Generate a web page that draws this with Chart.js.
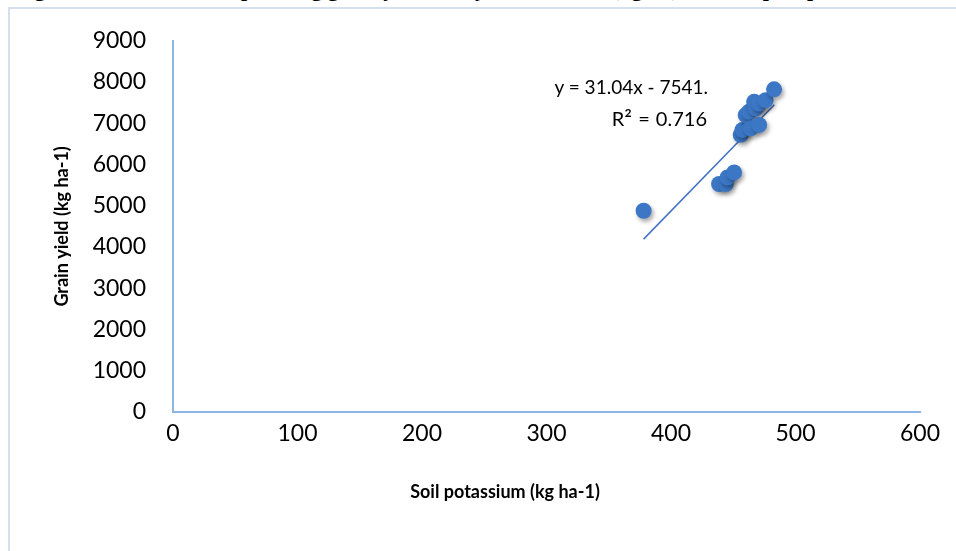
<!DOCTYPE html>
<html>
<head>
<meta charset="utf-8">
<script src="https://cdn.jsdelivr.net/npm/chart.js@4.4.1/dist/chart.umd.min.js"></script>
<style>
  html, body { margin: 0; padding: 0; background: #fff; overflow: hidden; }
  #wrap { position: relative; width: 956px; height: 551px; overflow: hidden; }
  #frame { position: absolute; left: 8px; top: 7px; right: -10px; bottom: -10px;
           border-left: 2px solid #D5E0EF; border-top: 2px solid #D5E0EF; }
  #caption { position: absolute; top: -22px; left: 15px; white-space: nowrap;
             font: bold 22px "Liberation Serif", serif; line-height: 22px; color: #000; }
  .eq { position: absolute; font: 19px Lato, sans-serif; color: #000; white-space: nowrap; line-height: 24px; }
  .eq .sq { font-size: 23px; line-height: 0; position: relative; top: 2px; }
  #xtitle { position: absolute; left: 505px; top: 491px; transform: translate(-50%, -50%);
            font: bold 18px Lato, sans-serif; color: #000; white-space: nowrap; }
  canvas { position: absolute; left: 0; top: 0; }
</style>
</head>
<body>
<div id="wrap">
  <div id="caption">Figure 4 Correlation ship among grain yield and yield variance (kg/ha) and soil phosphorus</div>
  <div id="frame"></div>
  <canvas id="chart" width="956" height="551"></canvas>
  <div class="eq" style="right:248px; top:75px;">y = 31.04x - 7541.</div>
  <div class="eq" style="right:249px; top:106px; font-size:20px; word-spacing:1px;">R<span class="sq">²</span> = 0.716</div>
  <div id="xtitle">Soil potassium (kg ha-1)</div>
</div>
<script>
// Scatter data
const potassium = [378, 438.6, 444, 445.4, 450.7, 456, 457.4, 460, 462.7, 464, 466.8, 468, 470.8, 470.8, 476, 482.8];
const grainYield = [4880, 5528, 5528, 5688, 5808, 6720, 6840, 7200, 7280, 6880, 7520, 7360, 7480, 6960, 7560, 7824];

// Linear trend line end points (y = 31.04x - 7541)
const trendX = [378, 483];
const trendY = [4192, 7451];

const axisColor = '#8EB4E3';
const pointColor = '#3C77C5';

// Soft shadow under the markers, like the Excel original
const shadowPlugin = {
    id: 'markerShadow',
    beforeDatasetDraw(chart, args) {
        if (args.index !== 1) return;
        const ctx = chart.ctx;
        ctx.save();
        ctx.shadowColor = 'rgba(0,0,0,0.35)';
        ctx.shadowBlur = 4;
        ctx.shadowOffsetX = 2;
        ctx.shadowOffsetY = 3;
    },
    afterDatasetDraw(chart, args) {
        if (args.index !== 1) return;
        chart.ctx.restore();
    }
};

function initializeChart() {
    const ctx = document.getElementById('chart').getContext('2d');

    new Chart(ctx, {
        type: 'scatter',
        data: {
            datasets: [{
                type: 'line',
                label: 'Linear trend',
                data: trendX.map((x, i) => ({ x: x, y: trendY[i] })),
                borderColor: '#4472C4',
                borderWidth: 1.5,
                pointRadius: 0,
                fill: false,
                order: 2
            }, {
                label: 'Grain yield',
                data: potassium.map((x, i) => ({ x: x, y: grainYield[i] })),
                backgroundColor: pointColor,
                borderColor: pointColor,
                pointRadius: 8,
                pointBorderWidth: 0,
                order: 1
            }]
        },
        options: {
            responsive: false,
            animation: false,
            layout: { padding: { left: 0, top: 37, right: 36, bottom: 0 } },
            plugins: {
                legend: { display: false },
                tooltip: { enabled: false }
            },
            scales: {
                x: {
                    type: 'linear',
                    min: 0,
                    max: 600,
                    afterFit: (scale) => { scale.height = 139; },
                    grid: { display: false, drawTicks: false },
                    border: { display: true, color: axisColor, width: 2 },
                    ticks: {
                        stepSize: 100,
                        padding: 8,
                        color: '#000',
                        font: { family: 'Lato', size: 23 },
                        callback: (v) => String(v)
                    }
                },
                y: {
                    min: 0,
                    max: 9000,
                    afterFit: (scale) => { scale.width = 173; },
                    grid: { display: false, drawTicks: false },
                    border: { display: true, color: axisColor, width: 2 },
                    ticks: {
                        stepSize: 1000,
                        padding: 27,
                        color: '#000',
                        font: { family: 'Lato', size: 23 },
                        callback: (v) => String(v)
                    },
                    title: {
                        display: true,
                        text: 'Grain yield (kg ha-1)',
                        color: '#000',
                        font: { family: 'Lato', size: 18, weight: 'bold' },
                        padding: { top: 51, bottom: 0 }
                    }
                }
            }
        },
        plugins: [shadowPlugin]
    });
}

window.onload = () => {
    initializeChart();
};
</script>
</body>
</html>
